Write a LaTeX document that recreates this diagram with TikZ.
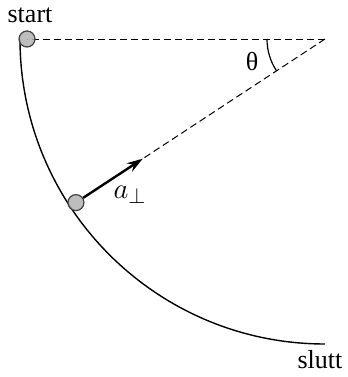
\documentclass[tikz,border=0pt]{standalone}
\usepackage{fontspec}
\setmainfont{Liberation Serif}
\usetikzlibrary{arrows.meta,calc}
\begin{document}
\begin{tikzpicture}[x=0.5pt,y=0.5pt,
  ball/.style={circle,draw=black!75,fill=black!30,fill opacity=0.85,text opacity=1,line width=0.6pt,minimum size=8pt,inner sep=0pt},
  dsh/.style={dashed,dash pattern=on 3.5pt off 2pt,line width=0.5pt},
  lbl/.style={inner sep=0pt,font=\fontsize{13}{15}\selectfont}]
\useasboundingbox (0,0) rectangle (348,377);
\coordinate (O) at (325,338);
\coordinate (T) at ($(O)+(213.3:218)$);
% track
\draw[line width=0.7pt] ($(O)+(180:305)$) arc[start angle=180,end angle=270,radius=305];
% dashed lines
\draw[dsh] (O) -- (27,338);
\draw[dsh] (O) -- (T);
% angle
\draw[line width=0.6pt] ($(O)+(180:58)$) arc[start angle=180,end angle=213.3,radius=58];
\node[lbl] (th) at (252,315) {θ};
% balls
\node[ball] (b1) at (27,338) {};
\node[ball] (b2) at ($(O)+(213.3:298)$) {};
\draw[-{Stealth[length=8pt,width=5pt]},line width=1.2pt] (b2) -- (T);
\node[inner sep=0pt,font=\fontsize{15}{18}\selectfont] (a) at (130,182) {$a_\perp$};
\node[lbl] (st) at (30,362) {start};
\node[lbl] (sl) at (320,17) {slutt};
\end{tikzpicture}
\end{document}
